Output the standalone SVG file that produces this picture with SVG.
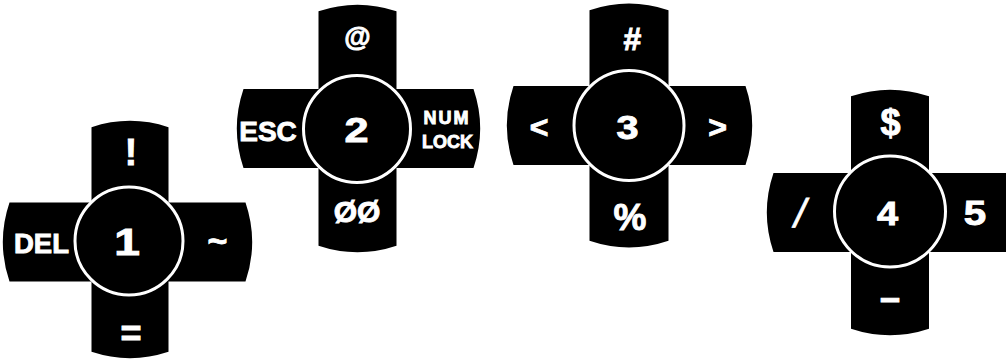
<svg xmlns="http://www.w3.org/2000/svg" width="1006" height="362" viewBox="0 0 1006 362">
<style>
.pad{fill:#000}
.ring{fill:#000;stroke:#fff;stroke-width:3}
text{font-family:"Liberation Sans",Arial,sans-serif;font-weight:bold;fill:#fff;stroke:#fff;stroke-width:0.9;text-anchor:middle}
.thin{font-weight:normal;stroke-width:0.8}
</style>
<rect width="1006" height="362" fill="#fff"/>
<g id="connectors"></g>
<g id="pad1">
<path class="pad" d="M91.5,127.2 A123 123 0 0 1 168.5,127.2 V202.5 H245.5 A123 123 0 0 1 245.5,281.5 H168.5 V351.8 A123 123 0 0 1 91.5,351.8 V281.5 H9.5 A123 123 0 0 1 9.5,202.5 H91.5 Z"/>
<circle class="ring" cx="129" cy="241" r="54"/>
<text x="131" y="165" font-size="37">!</text>
<text x="41.5" y="253.3" font-size="27.5">DEL</text>
<text transform="translate(127,255) scale(1.25,1)" font-size="37">1</text>
<text x="217.5" y="252" font-size="34">~</text>
<text x="131" y="345.5" font-size="36">=</text>
</g>
<g id="pad2">
<path class="pad" d="M318.5,11.2 A123 123 0 0 1 396.5,11.2 V89 H473.5 A123 123 0 0 1 473.5,168 H396.5 V245.8 A123 123 0 0 1 318.5,245.8 V168 H243.5 A123 123 0 0 1 243.5,89 H318.5 Z"/>
<circle class="ring" cx="357" cy="129" r="53.5"/>
<text x="357.5" y="46" font-size="27">@</text>
<text x="268" y="141" font-size="28">ESC</text>
<text transform="translate(356.5,142) scale(1.2,1)" font-size="36">2</text>
<text x="447" y="124.3" font-size="18" letter-spacing="2">NUM</text>
<text x="447.5" y="147.7" font-size="18">LOCK</text>
<text x="357" y="222" font-size="30">ØØ</text>
</g>
<g id="pad3">
<path class="pad" d="M589.5,10.2 A123 123 0 0 1 668.5,10.2 V86 H745.5 A123 123 0 0 1 745.5,165 H668.5 V240.8 A123 123 0 0 1 589.5,240.8 V165 H513.5 A123 123 0 0 1 513.5,86 H589.5 Z"/>
<circle class="ring" cx="629" cy="125.5" r="55"/>
<text x="632.5" y="50" font-size="32">#</text>
<text x="539" y="137.5" font-size="32">&lt;</text>
<text transform="translate(627.5,138.5) scale(1.2,1)" font-size="33">3</text>
<text x="717.5" y="137.5" font-size="32">&gt;</text>
<text x="630" y="229.5" font-size="37">%</text>
</g>
<g id="pad4">
<path class="pad" d="M851,96.2 A123 123 0 0 1 929,96.2 V173 H1006.5 A123 123 0 0 1 1006.5,252 H929 V328.8 A123 123 0 0 1 851,328.8 V252 H773.5 A123 123 0 0 1 773.5,173 H851 Z"/>
<circle class="ring" cx="890" cy="211.5" r="55.5"/>
<text x="890.5" y="135" font-size="36">$</text>
<text class="thin" transform="translate(797.5,227) skewX(-12)" font-size="40">/</text>
<text transform="translate(887.5,225) scale(1.15,1)" font-size="33">4</text>
<text transform="translate(975,225) scale(1.15,1)" font-size="35">5</text>
<text x="890" y="310" font-size="36" stroke-width="2.5">–</text>
</g>
</svg>
